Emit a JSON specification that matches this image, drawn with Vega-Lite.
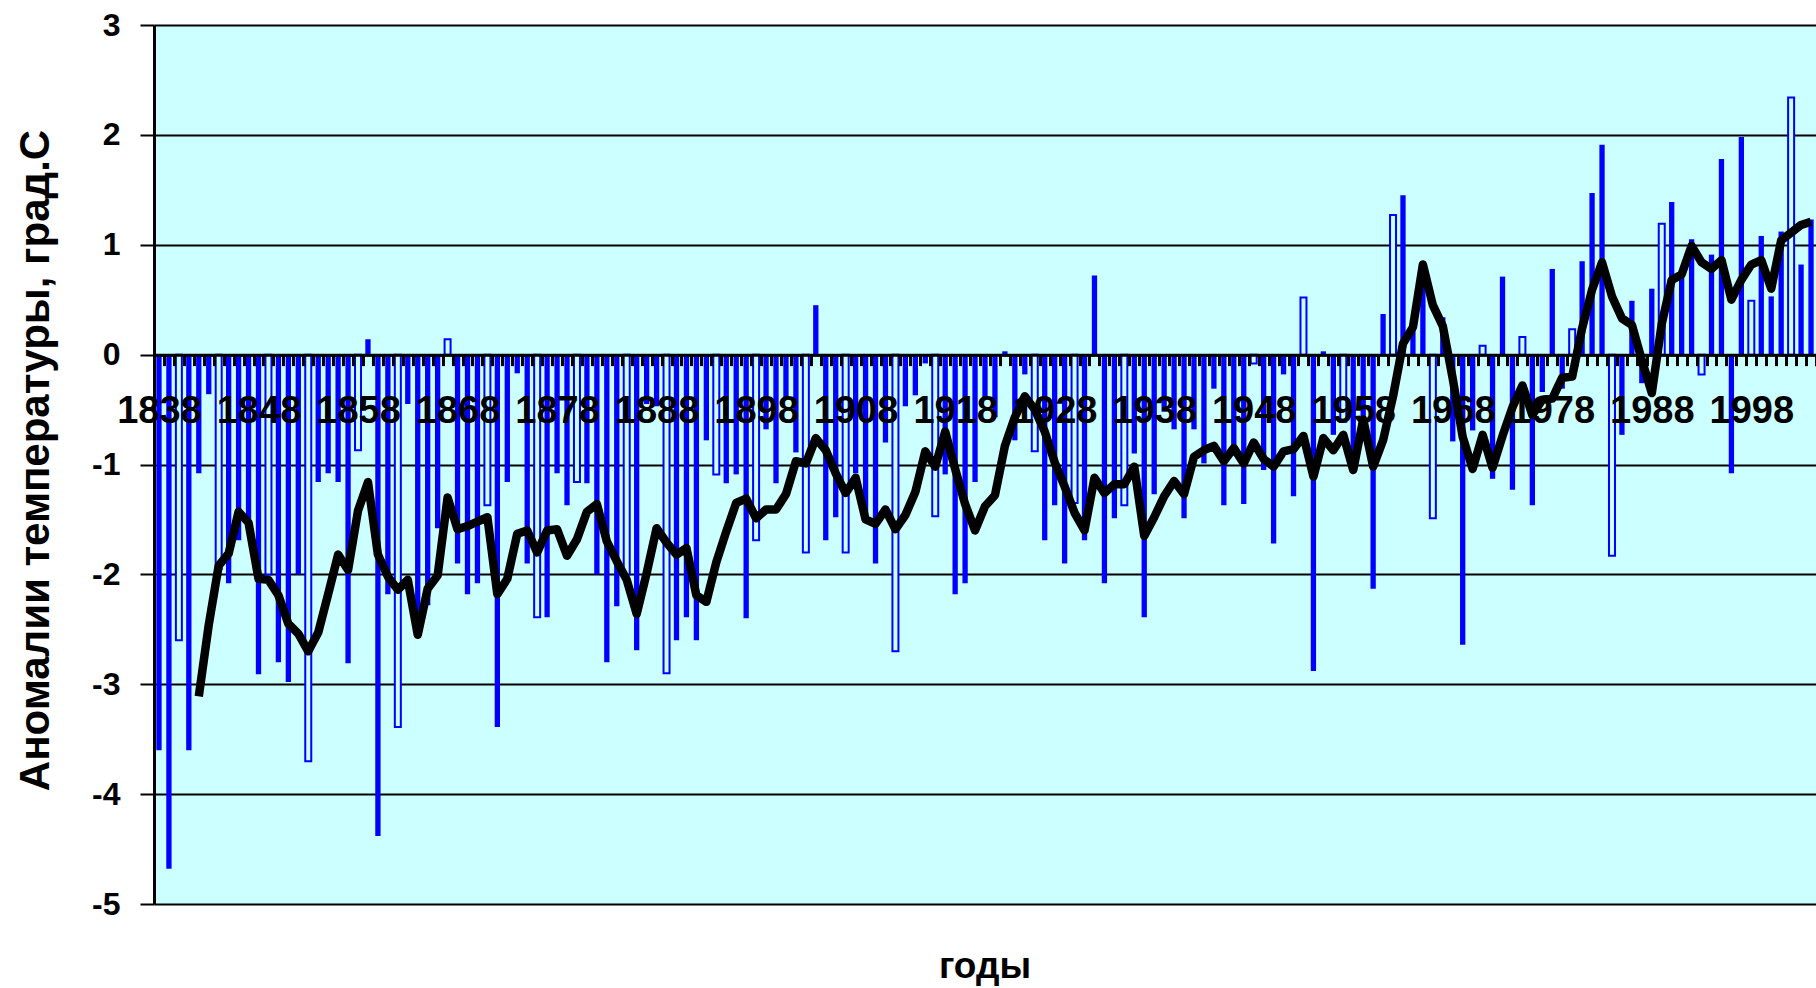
{
"$schema": "https://vega.github.io/schema/vega-lite/v6.json",
"width": 1662,
"height": 879,
"autosize": {"type": "none"},
"padding": {"left": 154, "top": 25, "right": 0, "bottom": 84},
"background": "white",
"config": {"view": {"stroke": null, "fill": "#CCFFFF"}, "font": "Liberation Sans"},
"title": {"text": "годы", "orient": "bottom", "frame": "group", "anchor": "middle", "offset": 29, "fontSize": 37, "font": "Liberation Sans", "fontWeight": "bold", "color": "black"},
"data": {"values": [
{"year":1838,"v":-3.6,"kind":"solid"},
{"year":1839,"v":-4.68,"kind":"solid"},
{"year":1840,"v":-2.6,"kind":"hollow"},
{"year":1841,"v":-3.6,"kind":"solid"},
{"year":1842,"v":-1.08,"kind":"solid","ma":-3.11},
{"year":1843,"v":-0.36,"kind":"solid","ma":-2.46},
{"year":1844,"v":-1.95,"kind":"hollow","ma":-1.92},
{"year":1845,"v":-2.08,"kind":"solid","ma":-1.81},
{"year":1846,"v":-1.69,"kind":"solid","ma":-1.43},
{"year":1847,"v":-1.55,"kind":"solid","ma":-1.53},
{"year":1848,"v":-2.91,"kind":"solid","ma":-2.04},
{"year":1849,"v":-2.0,"kind":"hollow","ma":-2.05},
{"year":1850,"v":-2.8,"kind":"solid","ma":-2.19},
{"year":1851,"v":-2.98,"kind":"solid","ma":-2.45},
{"year":1852,"v":-2.0,"kind":"solid","ma":-2.54},
{"year":1853,"v":-3.7,"kind":"hollow","ma":-2.70},
{"year":1854,"v":-1.16,"kind":"solid","ma":-2.53},
{"year":1855,"v":-1.08,"kind":"solid","ma":-2.18},
{"year":1856,"v":-1.16,"kind":"solid","ma":-1.82},
{"year":1857,"v":-2.81,"kind":"solid","ma":-1.96},
{"year":1858,"v":-0.87,"kind":"hollow","ma":-1.42},
{"year":1859,"v":0.14,"kind":"solid","ma":-1.16},
{"year":1860,"v":-4.38,"kind":"solid","ma":-1.82},
{"year":1861,"v":-2.18,"kind":"solid","ma":-2.02},
{"year":1862,"v":-3.39,"kind":"hollow","ma":-2.14},
{"year":1863,"v":-0.45,"kind":"solid","ma":-2.05},
{"year":1864,"v":-2.35,"kind":"solid","ma":-2.55},
{"year":1865,"v":-2.28,"kind":"solid","ma":-2.13},
{"year":1866,"v":-1.58,"kind":"solid","ma":-2.01},
{"year":1867,"v":0.14,"kind":"hollow","ma":-1.30},
{"year":1868,"v":-1.9,"kind":"solid","ma":-1.59},
{"year":1869,"v":-2.18,"kind":"solid","ma":-1.56},
{"year":1870,"v":-2.08,"kind":"solid","ma":-1.52},
{"year":1871,"v":-1.37,"kind":"hollow","ma":-1.48},
{"year":1872,"v":-3.39,"kind":"solid","ma":-2.18},
{"year":1873,"v":-1.16,"kind":"solid","ma":-2.04},
{"year":1874,"v":-0.17,"kind":"solid","ma":-1.63},
{"year":1875,"v":-1.9,"kind":"solid","ma":-1.60},
{"year":1876,"v":-2.39,"kind":"hollow","ma":-1.80},
{"year":1877,"v":-2.39,"kind":"solid","ma":-1.60},
{"year":1878,"v":-1.08,"kind":"solid","ma":-1.59},
{"year":1879,"v":-1.37,"kind":"solid","ma":-1.83},
{"year":1880,"v":-1.16,"kind":"hollow","ma":-1.68},
{"year":1881,"v":-1.17,"kind":"solid","ma":-1.43},
{"year":1882,"v":-2.0,"kind":"solid","ma":-1.36},
{"year":1883,"v":-2.8,"kind":"solid","ma":-1.70},
{"year":1884,"v":-2.29,"kind":"solid","ma":-1.88},
{"year":1885,"v":-2.0,"kind":"hollow","ma":-2.05},
{"year":1886,"v":-2.69,"kind":"solid","ma":-2.36},
{"year":1887,"v":-0.45,"kind":"solid","ma":-1.99},
{"year":1888,"v":-0.47,"kind":"solid","ma":-1.58},
{"year":1889,"v":-2.9,"kind":"hollow","ma":-1.71},
{"year":1890,"v":-2.6,"kind":"solid","ma":-1.82},
{"year":1891,"v":-2.39,"kind":"solid","ma":-1.76},
{"year":1892,"v":-2.6,"kind":"solid","ma":-2.19},
{"year":1893,"v":-0.78,"kind":"solid","ma":-2.25},
{"year":1894,"v":-1.09,"kind":"hollow","ma":-1.89},
{"year":1895,"v":-1.17,"kind":"solid","ma":-1.61},
{"year":1896,"v":-1.09,"kind":"solid","ma":-1.35},
{"year":1897,"v":-2.4,"kind":"solid","ma":-1.31},
{"year":1898,"v":-1.69,"kind":"hollow","ma":-1.49},
{"year":1899,"v":-0.68,"kind":"solid","ma":-1.41},
{"year":1900,"v":-1.17,"kind":"solid","ma":-1.41},
{"year":1901,"v":-0.41,"kind":"solid","ma":-1.27},
{"year":1902,"v":-0.89,"kind":"solid","ma":-0.97},
{"year":1903,"v":-1.8,"kind":"hollow","ma":-0.99},
{"year":1904,"v":0.45,"kind":"solid","ma":-0.76},
{"year":1905,"v":-1.69,"kind":"solid","ma":-0.87},
{"year":1906,"v":-1.48,"kind":"solid","ma":-1.08},
{"year":1907,"v":-1.8,"kind":"hollow","ma":-1.26},
{"year":1908,"v":-1.08,"kind":"solid","ma":-1.12},
{"year":1909,"v":-1.45,"kind":"solid","ma":-1.50},
{"year":1910,"v":-1.9,"kind":"solid","ma":-1.54},
{"year":1911,"v":-0.8,"kind":"solid","ma":-1.41},
{"year":1912,"v":-2.7,"kind":"hollow","ma":-1.59},
{"year":1913,"v":-0.47,"kind":"solid","ma":-1.46},
{"year":1914,"v":-0.37,"kind":"solid","ma":-1.25},
{"year":1915,"v":-0.08,"kind":"solid","ma":-0.88},
{"year":1916,"v":-1.47,"kind":"hollow","ma":-1.02},
{"year":1917,"v":-1.09,"kind":"solid","ma":-0.70},
{"year":1918,"v":-2.18,"kind":"solid","ma":-1.04},
{"year":1919,"v":-2.08,"kind":"solid","ma":-1.36},
{"year":1920,"v":-1.16,"kind":"solid","ma":-1.60},
{"year":1921,"v":-0.39,"kind":"solid","ma":-1.38},
{"year":1922,"v":-0.57,"kind":"solid","ma":-1.28},
{"year":1923,"v":0.03,"kind":"solid","ma":-0.83},
{"year":1924,"v":-0.78,"kind":"solid","ma":-0.57},
{"year":1925,"v":-0.18,"kind":"solid","ma":-0.38},
{"year":1926,"v":-0.88,"kind":"hollow","ma":-0.50},
{"year":1927,"v":-1.69,"kind":"solid","ma":-0.70},
{"year":1928,"v":-1.37,"kind":"solid","ma":-0.98},
{"year":1929,"v":-1.9,"kind":"solid","ma":-1.20},
{"year":1930,"v":-1.35,"kind":"hollow","ma":-1.44},
{"year":1931,"v":-1.69,"kind":"solid","ma":-1.60},
{"year":1932,"v":0.72,"kind":"solid","ma":-1.12},
{"year":1933,"v":-2.08,"kind":"solid","ma":-1.26},
{"year":1934,"v":-1.49,"kind":"solid","ma":-1.18},
{"year":1935,"v":-1.37,"kind":"hollow","ma":-1.18},
{"year":1936,"v":-0.9,"kind":"solid","ma":-1.02},
{"year":1937,"v":-2.39,"kind":"solid","ma":-1.65},
{"year":1938,"v":-1.27,"kind":"solid","ma":-1.48},
{"year":1939,"v":-0.52,"kind":"solid","ma":-1.29},
{"year":1940,"v":-0.68,"kind":"solid","ma":-1.15},
{"year":1941,"v":-1.49,"kind":"solid","ma":-1.27},
{"year":1942,"v":-0.68,"kind":"solid","ma":-0.93},
{"year":1943,"v":-0.99,"kind":"solid","ma":-0.87},
{"year":1944,"v":-0.31,"kind":"solid","ma":-0.83},
{"year":1945,"v":-1.37,"kind":"solid","ma":-0.97},
{"year":1946,"v":-0.9,"kind":"solid","ma":-0.85},
{"year":1947,"v":-1.36,"kind":"solid","ma":-0.99},
{"year":1948,"v":-0.08,"kind":"hollow","ma":-0.80},
{"year":1949,"v":-1.05,"kind":"solid","ma":-0.95},
{"year":1950,"v":-1.72,"kind":"solid","ma":-1.02},
{"year":1951,"v":-0.18,"kind":"solid","ma":-0.88},
{"year":1952,"v":-1.29,"kind":"solid","ma":-0.86},
{"year":1953,"v":0.52,"kind":"hollow","ma":-0.74},
{"year":1954,"v":-2.88,"kind":"solid","ma":-1.11},
{"year":1955,"v":0.03,"kind":"solid","ma":-0.76},
{"year":1956,"v":-0.73,"kind":"solid","ma":-0.87},
{"year":1957,"v":-0.61,"kind":"hollow","ma":-0.73},
{"year":1958,"v":-1.06,"kind":"solid","ma":-1.05},
{"year":1959,"v":-0.58,"kind":"solid","ma":-0.59},
{"year":1960,"v":-2.13,"kind":"solid","ma":-1.02},
{"year":1961,"v":0.37,"kind":"solid","ma":-0.78},
{"year":1962,"v":1.27,"kind":"hollow","ma":-0.38},
{"year":1963,"v":1.45,"kind":"solid","ma":0.1},
{"year":1964,"v":0.29,"kind":"solid","ma":0.25},
{"year":1965,"v":0.72,"kind":"solid","ma":0.82},
{"year":1966,"v":-1.49,"kind":"hollow","ma":0.45},
{"year":1967,"v":0.34,"kind":"solid","ma":0.26},
{"year":1968,"v":-0.79,"kind":"solid","ma":-0.22},
{"year":1969,"v":-2.64,"kind":"solid","ma":-0.75},
{"year":1970,"v":-0.69,"kind":"solid","ma":-1.04},
{"year":1971,"v":0.08,"kind":"hollow","ma":-0.73},
{"year":1972,"v":-1.13,"kind":"solid","ma":-1.03},
{"year":1973,"v":0.71,"kind":"solid","ma":-0.74},
{"year":1974,"v":-1.23,"kind":"solid","ma":-0.48},
{"year":1975,"v":0.16,"kind":"hollow","ma":-0.28},
{"year":1976,"v":-1.37,"kind":"solid","ma":-0.55},
{"year":1977,"v":-0.34,"kind":"solid","ma":-0.41},
{"year":1978,"v":0.78,"kind":"solid","ma":-0.40},
{"year":1979,"v":-0.31,"kind":"solid","ma":-0.21},
{"year":1980,"v":0.23,"kind":"hollow","ma":-0.20},
{"year":1981,"v":0.85,"kind":"solid","ma":0.24},
{"year":1982,"v":1.47,"kind":"solid","ma":0.59},
{"year":1983,"v":1.91,"kind":"solid","ma":0.84},
{"year":1984,"v":-1.83,"kind":"hollow","ma":0.53},
{"year":1985,"v":-0.73,"kind":"solid","ma":0.33},
{"year":1986,"v":0.49,"kind":"solid","ma":0.27},
{"year":1987,"v":-0.26,"kind":"solid","ma":-0.05},
{"year":1988,"v":0.6,"kind":"solid","ma":-0.35},
{"year":1989,"v":1.19,"kind":"hollow","ma":0.28},
{"year":1990,"v":1.39,"kind":"solid","ma":0.68},
{"year":1991,"v":0.73,"kind":"solid","ma":0.73},
{"year":1992,"v":1.05,"kind":"solid","ma":0.99},
{"year":1993,"v":-0.18,"kind":"hollow","ma":0.84},
{"year":1994,"v":0.91,"kind":"solid","ma":0.78},
{"year":1995,"v":1.78,"kind":"solid","ma":0.86},
{"year":1996,"v":-1.08,"kind":"solid","ma":0.50},
{"year":1997,"v":1.98,"kind":"solid","ma":0.68},
{"year":1998,"v":0.49,"kind":"hollow","ma":0.82},
{"year":1999,"v":1.08,"kind":"solid","ma":0.86},
{"year":2000,"v":0.53,"kind":"solid","ma":0.60},
{"year":2001,"v":1.12,"kind":"solid","ma":1.04},
{"year":2002,"v":2.34,"kind":"hollow","ma":1.11},
{"year":2003,"v":0.82,"kind":"solid","ma":1.18},
{"year":2004,"v":1.23,"kind":"solid","ma":1.21}
]},
"encoding": {
  "x": {"field": "year", "type": "ordinal",
    "scale": {"type": "band", "paddingInner": 0, "paddingOuter": 0},
    "axis": {"title": null, "orient": "bottom", "offset": -549.375, "zindex": 1,
      "domainColor": "black", "domainWidth": 3,
      "tickColor": "black", "tickWidth": 3, "tickSize": 11, "tickBand": "extent",
      "labelExpr": "(datum.value - 1838) % 10 == 0 ? '' + datum.value : ''",
      "labelFont": "Liberation Sans", "labelFontSize": 38, "labelFontWeight": "bold", "labelColor": "black",
      "labelPadding": 27, "labelAngle": 0, "labelOverlap": false, "grid": false}}
},
"layer": [
  {"transform": [{"filter": "datum.kind == 'solid'"}],
   "mark": {"type": "bar", "width": 5.3, "color": "#0000FF"},
   "encoding": {"y": {"field": "v", "type": "quantitative",
      "scale": {"domain": [-5, 3], "nice": false, "zero": false},
      "axis": {"title": "Аномалии температуры, град.С", "values": [-5,-4,-3,-2,-1,0,1,2,3],
        "labelExpr": "datum.value < 0 ? '-' + abs(datum.value) : '' + datum.value",
        "domainColor": "black", "domainWidth": 3, "tickColor": "black", "tickWidth": 2, "tickSize": 14,
        "labelPadding": 20, "labelFont": "Liberation Sans", "labelFontSize": 32, "labelFontWeight": "bold", "labelColor": "black",
        "grid": true, "gridColor": "black", "gridWidth": 2, "gridOpacity": 1,
        "titleFont": "Liberation Sans", "titleFontSize": 42, "titleFontWeight": "bold", "titleColor": "black",
        "titleX": -119, "titleY": 435, "titleAngle": 270, "titleAlign": "center", "titleBaseline": "middle", "zindex": 0}}}},
  {"transform": [{"filter": "datum.kind == 'hollow'"}],
   "mark": {"type": "bar", "width": 6, "fill": "#CCFFFF", "stroke": "#0000FF", "strokeWidth": 2},
   "encoding": {"y": {"field": "v", "type": "quantitative"}}},
  {"mark": {"type": "line", "color": "black", "strokeWidth": 8.5, "strokeJoin": "round"},
   "encoding": {"y": {"field": "ma", "type": "quantitative"}}}
]
}
